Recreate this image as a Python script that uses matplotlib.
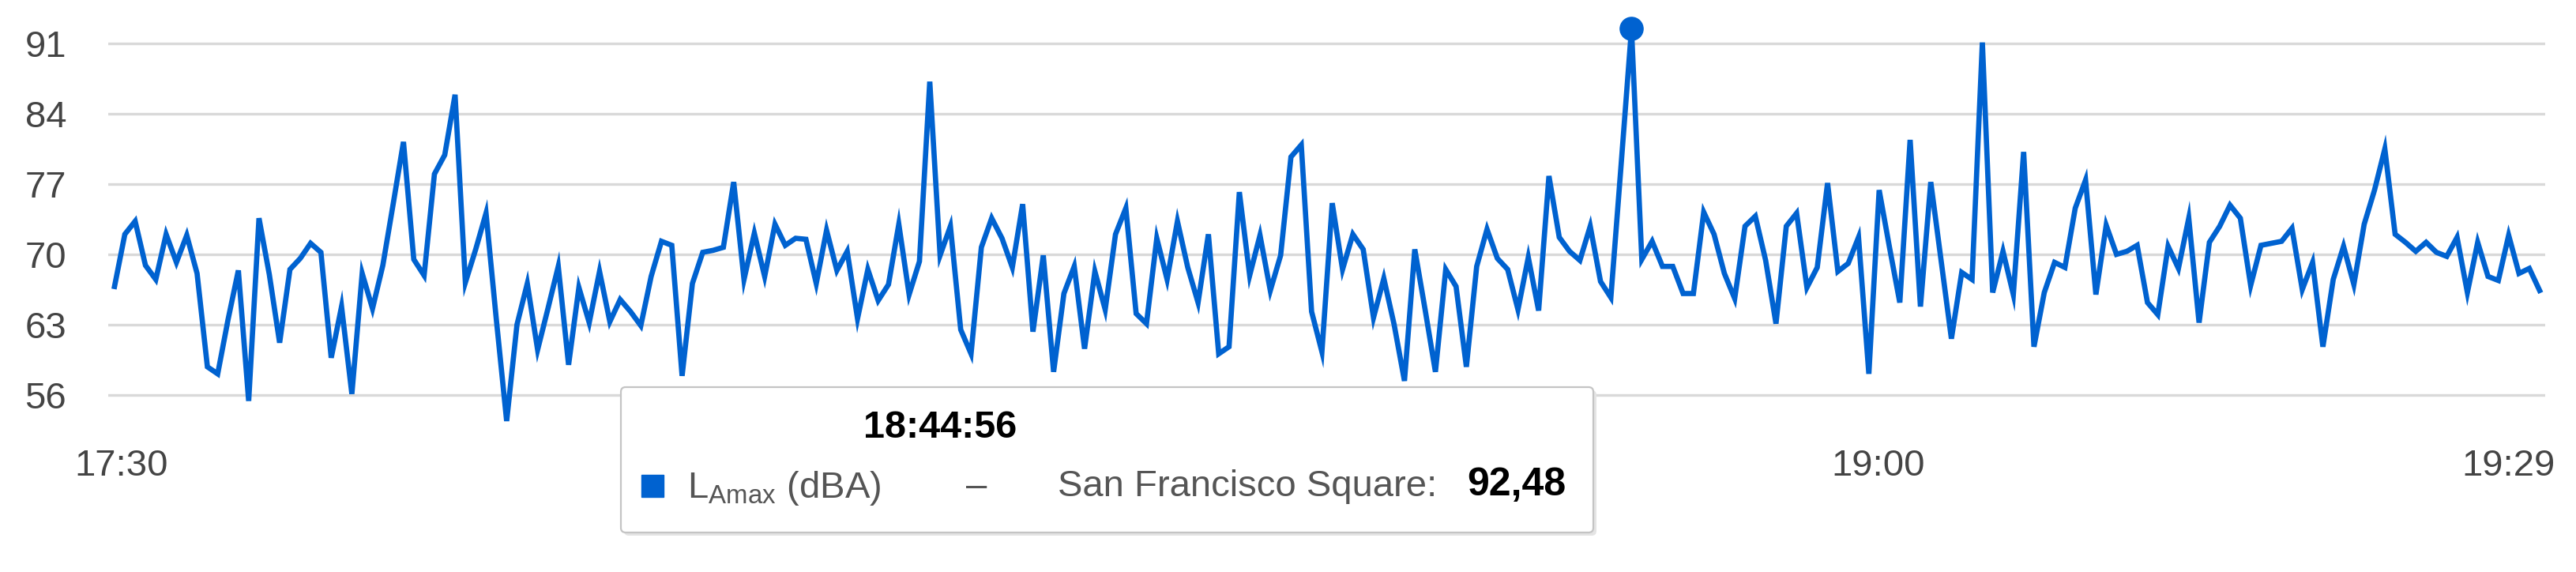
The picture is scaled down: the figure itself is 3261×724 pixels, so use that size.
import matplotlib.pyplot as plt
from matplotlib.patches import FancyBboxPatch, Rectangle

plt.rcParams['font.family'] = ['Liberation Sans', 'DejaVu Sans']
plt.rcParams['mathtext.fontset'] = 'custom'
plt.rcParams['mathtext.rm'] = 'Liberation Sans'

# LAmax (dBA) readings, one every ~30 s
lamax = [
    66.8, 72.0, 73.3, 68.9, 67.5, 72.0, 69.2, 71.9, 68.1, 58.8,
    58.1, 63.5, 68.4, 55.4, 73.6, 68.0, 61.2, 68.5, 69.6, 71.1,
    70.2, 59.7, 64.8, 56.1, 68.1, 64.6, 68.9, 75.0, 81.2, 69.5,
    67.9, 78.0, 79.9, 85.9, 67.2, 70.5, 74.1, 63.5, 53.4, 63.0,
    67.1, 60.5, 64.6, 68.8, 59.0, 66.7, 63.2, 68.3, 63.3, 65.5,
    64.3, 62.9, 67.8, 71.3, 70.9, 57.9, 67.1, 70.2, 70.4, 70.7,
    77.2, 67.5, 72.1, 67.8, 73.0, 70.9, 71.6, 71.5, 67.1, 72.4,
    68.4, 70.3, 63.6, 68.5, 65.4, 67.0, 73.0, 66.0, 69.3, 87.2,
    69.9, 72.8, 62.5, 60.1, 70.7, 73.6, 71.6, 68.7, 75.0, 62.3,
    69.9, 58.3, 66.1, 68.8, 60.6, 68.3, 64.5, 72.0, 74.6, 64.1,
    63.1, 71.6, 67.5, 73.3, 68.7, 65.2, 72.0, 60.1, 60.8, 76.2,
    67.9, 71.9, 66.4, 69.9, 79.7, 80.9, 64.3, 60.3, 75.1, 68.5,
    72.0, 70.5, 63.7, 67.6, 63.0, 57.4, 70.5, 64.5, 58.3, 68.5,
    66.8, 58.8, 68.8, 72.5, 69.6, 68.5, 64.5, 69.7, 64.4, 77.8,
    71.7, 70.3, 69.4, 72.8, 67.3, 65.7, 79.0, 92.48, 69.5, 71.3,
    68.8, 68.8, 66.1, 66.1, 74.2, 72.0, 68.1, 65.6, 72.8, 73.8,
    69.4, 63.1, 72.8, 74.1, 66.7, 68.7, 77.1, 68.3, 69.1, 71.7,
    58.1, 76.4, 70.7, 65.2, 81.4, 64.8, 77.2, 69.4, 61.6, 68.2,
    67.5, 91.1, 66.2, 70.3, 66.0, 80.2, 60.8, 66.2, 69.2, 68.7,
    74.6, 77.4, 66.0, 72.9, 70.0, 70.3, 70.9, 65.2, 64.0, 70.8,
    68.6, 73.6, 63.2, 71.2, 72.8, 74.9, 73.6, 66.9, 70.9, 71.1,
    71.3, 72.6, 66.5, 69.2, 60.8, 67.5, 70.8, 67.0, 73.0, 76.4,
    80.5, 72.0, 71.2, 70.3, 71.2, 70.2, 69.8, 71.7, 66.2, 71.2,
    67.8, 67.4, 71.9, 68.1, 68.6, 66.4,
]
y_ticks = [56, 63, 70, 77, 84, 91]
x_labels = ['17:30', '19:00', '19:29']
x_label_idx = [0.7, 170.9, 232]

tooltip_time = '18:44:56'
tooltip_value = '92,48'
series_name = r'L$_{\mathregular{Amax}}$ (dBA)'
location = 'San Francisco Square:'

blue = '#0062d0'
W, H = 3262, 724

fig = plt.figure(figsize=(W / 100, H / 100), dpi=100)
ax = fig.add_axes([137 / W, 1 - 560 / H, (3222 - 137) / W, 530 / H])

x = list(range(len(lamax)))
ax.plot(x, lamax, color=blue, lw=4.8, solid_joinstyle='miter', zorder=3)

# highlighted point (tooltip target)
ipk = max(x, key=lambda i: lamax[i])
ax.plot([ipk], [lamax[ipk]], 'o', color=blue, ms=21, clip_on=False, zorder=4)

ax.set_xlim(-0.61, len(lamax) - 1 + 0.54)
ax.set_ylim(51.27, 92.97)
ax.set_yticks(y_ticks)
ax.set_xticks(x_label_idx)
ax.set_xticklabels(x_labels)
ax.grid(axis='y', color='#d9d9d9', lw=2.4)
ax.set_axisbelow(True)
for s in ax.spines.values():
    s.set_visible(False)
ax.tick_params(axis='y', length=0, pad=38, labelsize=34, labelcolor='#444444')
ax.tick_params(axis='x', length=0, pad=6, labelsize=34, labelcolor='#444444')

# tooltip overlay in pixel coords
ov = fig.add_axes([0, 0, 1, 1], zorder=10)
ov.set_xlim(0, W)
ov.set_ylim(H, 0)
ov.axis('off')
ov.add_patch(FancyBboxPatch((790, 494), 1231, 184, boxstyle='round,pad=0,rounding_size=6',
                            fc='#e4e4e4', ec='none'))
ov.add_patch(FancyBboxPatch((786, 490), 1231, 184, boxstyle='round,pad=0,rounding_size=6',
                            fc='white', ec='#c4c4c4', lw=1.6))
ov.text(1190, 542, tooltip_time, ha='center', va='center', fontsize=35,
        fontweight='bold', color='black')
ov.add_patch(Rectangle((812, 601), 28, 28, color=blue))
ov.text(870, 618, series_name, ha='left', va='center', fontsize=34, color='#555555')
ov.text(1236, 616, '–', ha='center', va='center', fontsize=34, color='#555555')
ov.text(1339, 616, location, ha='left', va='center', fontsize=34, color='#555555')
ov.text(1920, 614, tooltip_value, ha='center', va='center', fontsize=36,
        fontweight='bold', color='black')

fig.savefig('out.png', dpi=100)
